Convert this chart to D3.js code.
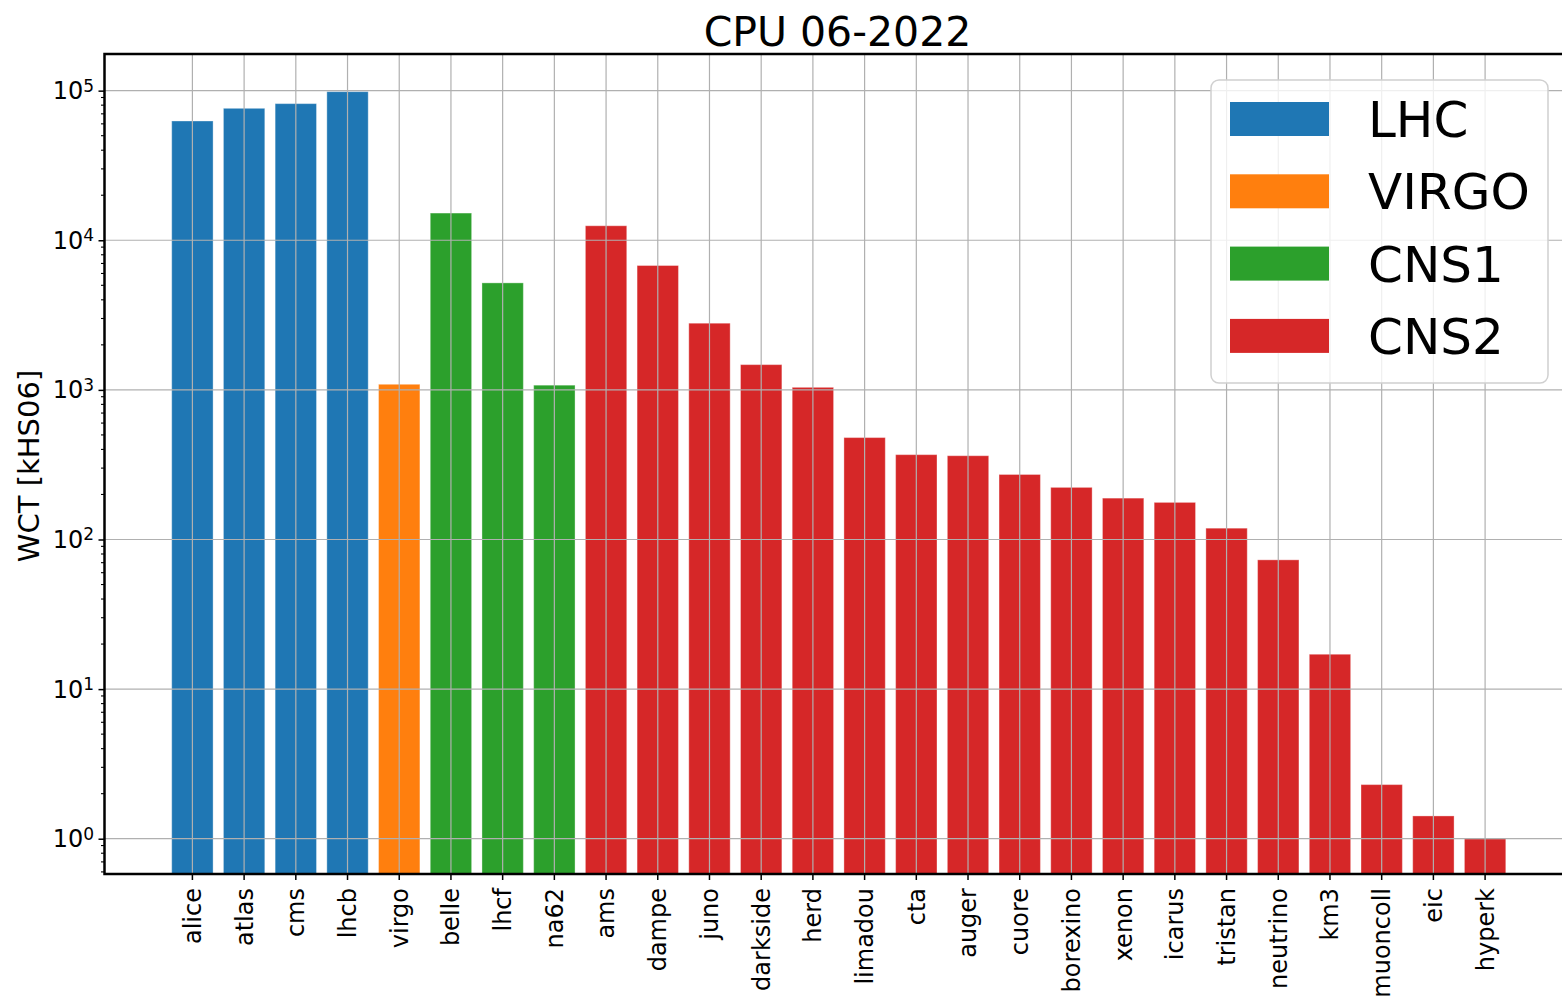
<!DOCTYPE html>
<html>
<head>
<meta charset="utf-8">
<script src="https://cdn.jsdelivr.net/npm/d3@7"></script>
<style>
  body { margin: 0; background: #fff; }
  text { font-family: "DejaVu Sans", sans-serif; fill: #000; }
</style>
</head>
<body>
<div id="graphContainer"></div>
<script>
// data
const categories = ["alice", "atlas", "cms", "lhcb", "virgo", "belle", "lhcf", "na62", "ams", "dampe",
    "juno", "darkside", "herd", "limadou", "cta", "auger", "cuore", "borexino", "xenon", "icarus",
    "tristan", "neutrino", "km3", "muoncoll", "eic", "hyperk"];
const values = [62700, 76200, 81900, 98500, 1090, 15200, 5190, 1075, 12500, 6780,
    2790, 1475, 1040, 480, 369, 363, 272, 223, 189, 177,
    119, 73.1, 17.1, 2.30, 1.42, 1.0];
const groups = ["LHC", "LHC", "LHC", "LHC", "VIRGO", "CNS1", "CNS1", "CNS1", "CNS2", "CNS2",
    "CNS2", "CNS2", "CNS2", "CNS2", "CNS2", "CNS2", "CNS2", "CNS2", "CNS2", "CNS2",
    "CNS2", "CNS2", "CNS2", "CNS2", "CNS2", "CNS2"];
const groupNames = ["LHC", "VIRGO", "CNS1", "CNS2"];
const groupColors = ["#1f77b4", "#ff7f0e", "#2ca02c", "#d62728"];
const yTicks = [1, 10, 100, 1000, 10000, 100000];
const title = "CPU 06-2022";
const yLabel = "WCT [kHS06]";

function add() {
    let width = 1562;
    let height = 1001;
    let svg = d3.select("#graphContainer").append("svg")
        .attr("width", width)
        .attr("height", height)
        .style("display", "block");
    return { svg, width, height };
}

function plotBars() {
    let { svg } = add();

    let left = 104.5, right = 1573, top = 54, bottom = 874;

    let x = d3.scaleBand()
        .domain(categories)
        .range([left, right])
        .paddingInner(0.2)
        .paddingOuter(1.3);

    let y = d3.scaleLog()
        .domain([0.581, 1.758e5])
        .range([bottom, top]);

    let color = d3.scaleOrdinal().domain(groupNames).range(groupColors);

    let data = categories.map((c, i) => ({ name: c, value: values[i], group: groups[i] }));

    // bars
    svg.append("g").selectAll("rect")
        .data(data)
        .enter().append("rect")
        .attr("x", d => x(d.name))
        .attr("width", x.bandwidth())
        .attr("y", d => y(d.value))
        .attr("height", d => bottom - y(d.value))
        .attr("fill", d => color(d.group))
        .attr("stroke", "#fff")
        .attr("stroke-opacity", 0.35)
        .attr("stroke-width", 1);

    // grid on top of the bars
    let grid = svg.append("g")
        .attr("stroke", "#b0b0b0")
        .attr("stroke-width", 1.2);
    grid.selectAll("line.h")
        .data(yTicks)
        .enter().append("line")
        .attr("x1", left).attr("x2", right)
        .attr("y1", d => y(d)).attr("y2", d => y(d));
    grid.selectAll("line.v")
        .data(categories)
        .enter().append("line")
        .attr("x1", d => x(d) + x.bandwidth() / 2)
        .attr("x2", d => x(d) + x.bandwidth() / 2)
        .attr("y1", top).attr("y2", bottom);

    // x axis
    let xAxis = svg.append("g")
        .attr("transform", `translate(0,${bottom})`)
        .call(d3.axisBottom(x).tickSize(6).tickPadding(8));
    xAxis.select(".domain").remove();
    xAxis.selectAll(".tick line").attr("stroke", "#000").attr("stroke-width", 1.5);
    xAxis.selectAll(".tick text")
        .attr("font-size", 24)
        .attr("font-family", "DejaVu Sans")
        .attr("text-anchor", "end")
        .attr("transform", "rotate(-90)")
        .attr("x", -14)
        .attr("y", 0)
        .attr("dy", "0.35em");

    // y axis: major ticks
    let yAxis = svg.append("g")
        .attr("transform", `translate(${left},0)`)
        .call(d3.axisLeft(y).tickValues(yTicks).tickSize(6).tickFormat(""));
    yAxis.select(".domain").remove();
    yAxis.selectAll(".tick line").attr("stroke", "#000").attr("stroke-width", 1.5);

    let minors = [];
    for (let e = -1; e <= 5; e++) {
        for (let k = 2; k <= 9; k++) {
            let v = k * Math.pow(10, e);
            if (v >= y.domain()[0] && v <= y.domain()[1]) minors.push(v);
        }
    }
    svg.append("g").selectAll("line")
        .data(minors)
        .enter().append("line")
        .attr("x1", left - 3.5).attr("x2", left)
        .attr("y1", d => y(d)).attr("y2", d => y(d))
        .attr("stroke", "#000")
        .attr("stroke-width", 1.1);

    // 10^n labels
    let lab = svg.append("g").selectAll("text")
        .data(yTicks)
        .enter().append("text")
        .attr("x", 94)
        .attr("y", d => y(d) + 8.5)
        .attr("text-anchor", "end")
        .attr("font-size", 24);
    lab.append("tspan").text("10");
    lab.append("tspan")
        .attr("dy", "-0.45em")
        .attr("font-size", 17)
        .text(d => Math.round(Math.log10(d)));

    // spines
    svg.append("path")
        .attr("d", `M${right},${top}H${left}V${bottom}H${right}`)
        .attr("fill", "none")
        .attr("stroke", "#000")
        .attr("stroke-width", 2.5);

    // title and y label
    svg.append("text")
        .attr("x", 837.5)
        .attr("y", 46)
        .attr("text-anchor", "middle")
        .attr("font-size", 41)
        .text(title);

    svg.append("text")
        .attr("transform", "translate(39,466) rotate(-90)")
        .attr("text-anchor", "middle")
        .attr("font-size", 29)
        .text(yLabel);

    // legend
    let legend = svg.append("g");
    legend.append("rect")
        .attr("x", 1211).attr("y", 80)
        .attr("width", 337).attr("height", 303)
        .attr("rx", 8)
        .attr("fill", "#fff")
        .attr("fill-opacity", 0.8)
        .attr("stroke", "#d0d0d0")
        .attr("stroke-width", 1.5);
    let item = legend.selectAll("g.item")
        .data(groupNames)
        .enter().append("g")
        .attr("transform", (d, i) => `translate(0,${119 + i * 72.3})`);
    item.append("rect")
        .attr("x", 1230).attr("y", -17)
        .attr("width", 99).attr("height", 34)
        .attr("fill", d => color(d));
    item.append("text")
        .attr("x", 1368)
        .attr("y", 18)
        .attr("font-size", 50)
        .text(d => d);
}

plotBars();
</script>
</body>
</html>
